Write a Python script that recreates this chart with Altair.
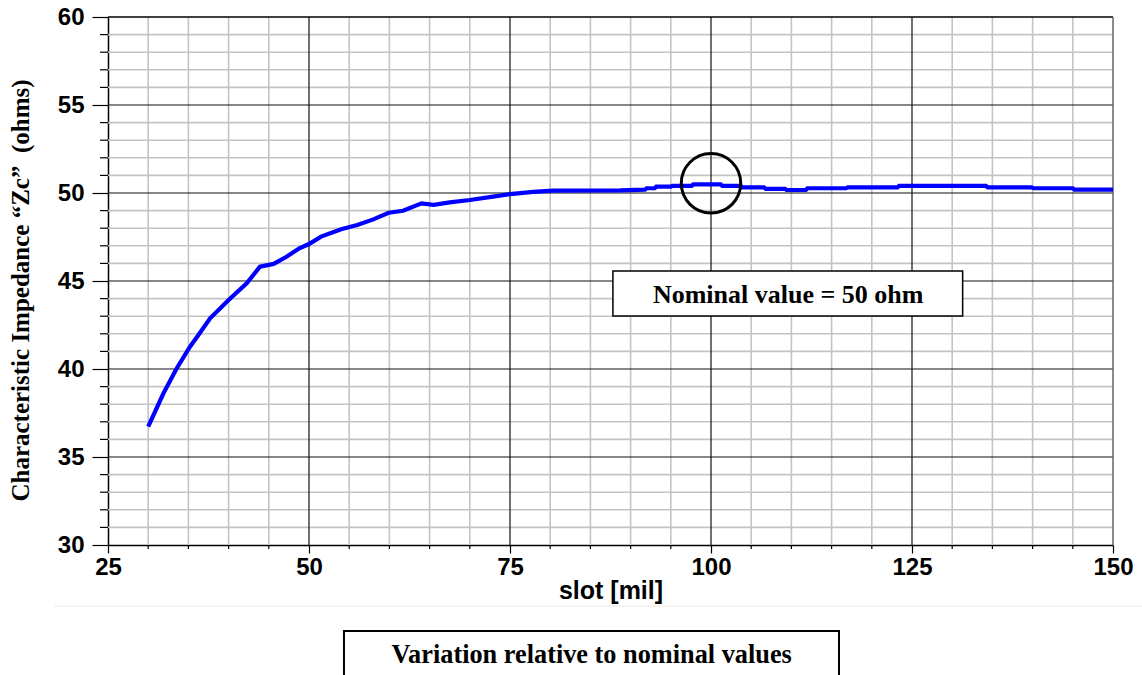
import altair as alt
import pandas as pd

# Characteristic impedance versus slot width
slot = [30, 31.9, 33.5, 35.2, 36.4, 37.7, 40, 42.25, 43.9, 45.6, 47.2, 48.8, 50,
        51.5, 54, 56, 58, 59.9, 61.7, 64, 65.5, 67.5, 70, 72.9, 75, 77.9, 80.4,
        88.7, 91.8, 92, 93, 93.2, 95, 95.2, 97.6, 97.8, 101.2, 101.4, 103.7,
        103.9, 106.6, 106.8, 109.2, 109.4, 111.8, 112, 116.8, 117, 123.2, 123.4,
        134.2, 134.4, 139.9, 140.1, 145, 145.2, 150]
zc = [36.72, 38.62, 40.0, 41.27, 42.03, 42.88, 43.92, 44.87, 45.81, 45.97, 46.38,
      46.86, 47.1, 47.52, 47.94, 48.18, 48.5, 48.88, 48.99, 49.41, 49.33, 49.47,
      49.6, 49.79, 49.94, 50.06, 50.13, 50.15, 50.19, 50.27, 50.27, 50.36, 50.36,
      50.41, 50.41, 50.49, 50.49, 50.41, 50.41, 50.32, 50.32, 50.24, 50.24,
      50.17, 50.17, 50.27, 50.27, 50.32, 50.32, 50.40, 50.40, 50.32, 50.32,
      50.27, 50.27, 50.19, 50.19]

x_labels = [25, 50, 75, 100, 125, 150]
y_labels = [30, 35, 40, 45, 50, 55, 60]
x_major = [50, 75, 100, 125]
y_major = [35, 40, 45, 50, 55]
x_minor = [v for v in range(30, 150, 5) if v % 25 != 0]
y_minor = [v for v in range(31, 60) if v % 5 != 0]

X_DOMAIN = [25, 150]
Y_DOMAIN = [30, 60]
W, H = 1005, 528

curve = pd.DataFrame({"slot": slot, "zc": zc})

xs = alt.Scale(domain=X_DOMAIN, nice=False, zero=False)
ys = alt.Scale(domain=Y_DOMAIN, nice=False, zero=False)

SANS = "Liberation Sans"
SERIF = "Liberation Serif"

x_axis = alt.Axis(
    values=x_labels, grid=False,
    tickSize=8, tickColor="#000", tickWidth=1.2,
    domainColor="#000", domainWidth=1.5,
    labelFont=SANS, labelFontWeight="bold", labelFontSize=24, labelColor="#000",
    labelPadding=2, labelFlush=False, labelOverlap=False,
    title="slot [mil]", titleFont=SANS, titleFontWeight="bold", titleFontSize=25,
    titleColor="#000", titleBaseline="alphabetic", titleY=53,
)
y_axis = alt.Axis(
    values=y_labels, grid=False,
    tickSize=16, tickColor="#000", tickWidth=1.2,
    domainColor="#000", domainWidth=1.5,
    labelFont=SANS, labelFontWeight="bold", labelFontSize=24, labelColor="#000",
    labelPadding=8, labelOverlap=False, labelFlush=False,
    title="Characteristic Impedance \u201cZc\u201d\u00a0 (ohms)",
    titleFont=SERIF, titleFontWeight="bold", titleFontSize=25, titleColor="#000",
    titleAngle=270, titleAlign="center", titleBaseline="middle",
    titleX=-88, titleY=273,
)

# grid lines
minor_v = alt.Chart(pd.DataFrame({"x": x_minor})).mark_rule(
    color="#c4c4c4", strokeWidth=1.6).encode(x=alt.X("x:Q", scale=xs, axis=x_axis))
minor_h = alt.Chart(pd.DataFrame({"y": y_minor})).mark_rule(
    color="#c4c4c4", strokeWidth=1.6).encode(y=alt.Y("y:Q", scale=ys, axis=y_axis))
major_v = alt.Chart(pd.DataFrame({"x": x_major})).mark_rule(
    color="#111", strokeWidth=1.2).encode(x=alt.X("x:Q", scale=xs, axis=x_axis))
major_h = alt.Chart(pd.DataFrame({"y": y_major})).mark_rule(
    color="#111", strokeWidth=1.2).encode(y=alt.Y("y:Q", scale=ys, axis=y_axis))
top_edge = alt.Chart(pd.DataFrame({"y": [60]})).mark_rule(
    color="#000", strokeWidth=1.5).encode(y=alt.Y("y:Q", scale=ys, axis=y_axis))
right_edge = alt.Chart(pd.DataFrame({"x": [150]})).mark_rule(
    color="#666", strokeWidth=1.5).encode(x=alt.X("x:Q", scale=xs, axis=x_axis))

# minor tick marks just outside the plot frame
minor_tx = alt.Chart(pd.DataFrame({"x": x_minor})).mark_rule(
    color="#000", strokeWidth=1.2).encode(
    x=alt.X("x:Q", scale=xs, axis=x_axis), y=alt.value(H), y2=alt.value(H + 4))
minor_ty = alt.Chart(pd.DataFrame({"y": y_minor})).mark_rule(
    color="#000", strokeWidth=1.2).encode(
    y=alt.Y("y:Q", scale=ys, axis=y_axis), x=alt.value(-8), x2=alt.value(0))

line = alt.Chart(curve).mark_line(color="#0000ff", strokeWidth=4.2).encode(
    x=alt.X("slot:Q", scale=xs, axis=x_axis), y=alt.Y("zc:Q", scale=ys, axis=y_axis))

# marker around the 100 mil point
ring = alt.Chart(pd.DataFrame({"x": [100], "y": [50.55]})).mark_point(
    shape="circle", filled=False, size=3530, stroke="#000", strokeWidth=3,
    opacity=1).encode(x=alt.X("x:Q", scale=xs, axis=x_axis), y=alt.Y("y:Q", scale=ys, axis=y_axis))

# "Nominal value" label box
nom_box = alt.Chart(pd.DataFrame({"x": [87.8], "x2": [131.3], "y": [45.57], "y2": [43.01]})).mark_rect(
    fill="#fff", stroke="#000", strokeWidth=1.5).encode(
    x=alt.X("x:Q", scale=xs, axis=x_axis), x2="x2", y=alt.Y("y:Q", scale=ys, axis=y_axis), y2="y2")
nom_text = alt.Chart(pd.DataFrame({"x": [109.6], "y": [43.77], "t": ["Nominal value = 50 ohm"]})).mark_text(
    font=SERIF, fontWeight="bold", fontSize=26, color="#000", align="center",
    baseline="alphabetic").encode(x=alt.X("x:Q", scale=xs, axis=x_axis),
                                  y=alt.Y("y:Q", scale=ys, axis=y_axis), text="t:N")

# separator and caption box below the plot
sep = alt.Chart(pd.DataFrame({"x": [18.3], "x2": [160], "y": [26.53]})).mark_rule(
    color="#f2e6dc", strokeWidth=1).encode(
    x=alt.X("x:Q", scale=xs, axis=x_axis), x2="x2", y=alt.Y("y:Q", scale=ys, axis=y_axis))
cap_box = alt.Chart(pd.DataFrame({"x": [54.35], "x2": [115.92], "y": [25.11], "y2": [22.0]})).mark_rect(
    fill="#fff", stroke="#000", strokeWidth=2).encode(
    x=alt.X("x:Q", scale=xs, axis=x_axis), x2="x2", y=alt.Y("y:Q", scale=ys, axis=y_axis), y2="y2")
cap_text = alt.Chart(pd.DataFrame({"x": [85.16], "y": [23.28], "t": ["Variation relative to nominal values"]})).mark_text(
    font=SERIF, fontWeight="bold", fontSize=26.3, color="#000", align="center",
    baseline="alphabetic").encode(x=alt.X("x:Q", scale=xs, axis=x_axis),
                                  y=alt.Y("y:Q", scale=ys, axis=y_axis), text="t:N")

chart = alt.layer(
    minor_v, minor_h, major_v, major_h, top_edge, right_edge, minor_tx, minor_ty,
    line, ring, nom_box, nom_text, sep, cap_box, cap_text,
).properties(
    width=W, height=H,
    autosize=alt.AutoSizeParams(type="none"),
    padding={"left": 108, "top": 17, "right": 29, "bottom": 130},
    background="#ffffff",
).configure_view(stroke=None)

chart.save("out.html", embed_options={"renderer": "svg", "actions": False})
